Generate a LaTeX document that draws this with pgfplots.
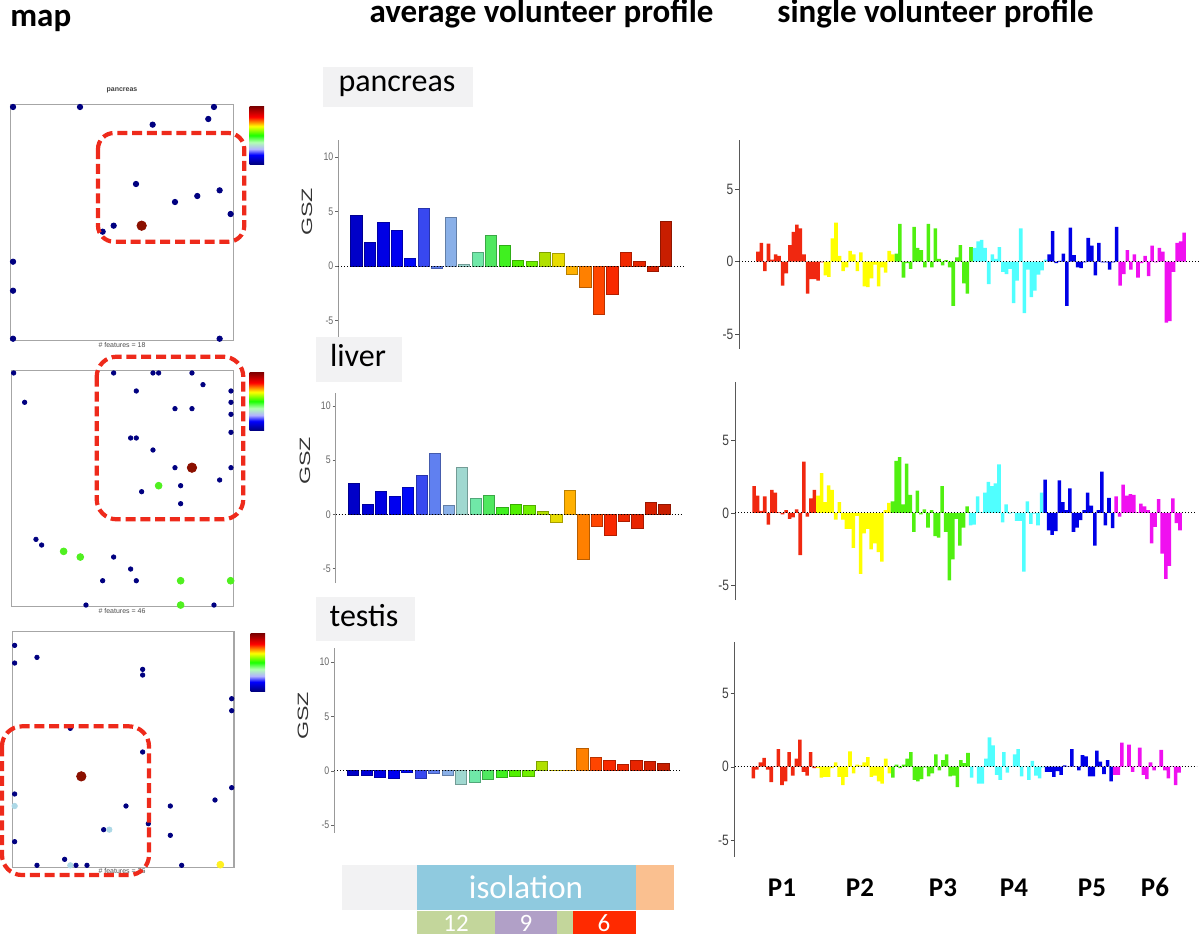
\documentclass[border=0pt]{standalone}
\usepackage{fontspec}
\setmainfont{Carlito}
\newfontfamily\ar{Liberation Sans}
\usepackage{pgfplots}
\pgfplotsset{compat=1.18}
% rainbow of the 24 average-profile bars
\definecolor{c0}{HTML}{0000C8}\definecolor{c1}{HTML}{0000D8}\definecolor{c2}{HTML}{0000E4}
\definecolor{c3}{HTML}{0000F0}\definecolor{c4}{HTML}{0008FA}\definecolor{c5}{HTML}{3848F0}
\definecolor{c6}{HTML}{6080F0}\definecolor{c7}{HTML}{8AB0E8}\definecolor{c8}{HTML}{A0D8D0}
\definecolor{c9}{HTML}{70E8A8}\definecolor{c10}{HTML}{50E860}\definecolor{c11}{HTML}{40F020}
\definecolor{c12}{HTML}{50F000}\definecolor{c13}{HTML}{70F000}\definecolor{c14}{HTML}{B0E000}
\definecolor{c15}{HTML}{E8DC00}\definecolor{c16}{HTML}{FFB000}\definecolor{c17}{HTML}{FF8000}
\definecolor{c18}{HTML}{FF4500}\definecolor{c19}{HTML}{F82800}\definecolor{c20}{HTML}{F02800}
\definecolor{c21}{HTML}{E82400}\definecolor{c22}{HTML}{D82000}\definecolor{c23}{HTML}{C81E00}
\definecolor{pr}{HTML}{F02810}\definecolor{py}{HTML}{FFFF00}\definecolor{pg}{HTML}{50F010}
\definecolor{pc}{HTML}{50FFFF}\definecolor{pb}{HTML}{0000E6}\definecolor{pm}{HTML}{F010F0}
\definecolor{navy}{HTML}{000080}\definecolor{dred}{HTML}{8B1000}\definecolor{regionred}{HTML}{EE2A1B}
\definecolor{lgrn}{HTML}{50F020}\definecolor{lblu}{HTML}{ADD8E6}\definecolor{lyel}{HTML}{FFF020}
\definecolor{boxg}{HTML}{F2F2F3}\definecolor{stripb}{HTML}{8FCADF}\definecolor{stripo}{HTML}{FAC090}
\definecolor{stripg}{HTML}{C3D69B}\definecolor{stripp}{HTML}{B1A0C7}\definecolor{stripr}{HTML}{FF2A00}
\pgfdeclareverticalshading{som}{100bp}{color(0bp)=(navy);color(25bp)=(navy);
  color(33bp)=(blue);color(38bp)=(white!70!blue);color(44bp)=(white!70!green);
  color(50bp)=(green!90!yellow);color(58bp)=(yellow);color(62bp)=(orange);
  color(66bp)=(red);color(75bp)=(red!50!black);color(100bp)=(red!50!black)}
\pgfplotsset{
  pxat/.style 2 args={at={({#1*.5pt},{-#2*.5pt})},anchor=north west},
  mapbox/.style={scale only axis,clip=false,xtick=\empty,ytick=\empty,
    axis line style={color=black!35,line width=.6pt}},
  mid/.style={scale only axis,axis x line=none,axis y line=left,axis line style={-,color=black!40,line width=.5pt},
    ytick={-5,0,5,10},tick align=outside,major tick length=1.5pt,
    tick style={color=black!60},
    yticklabel style={font=\ar\fontsize{5.5}{6}\selectfont,color=black!60,xscale=.8,inner sep=1pt},
    /pgf/number format/assume math mode=true},
  sgl/.style={scale only axis,axis x line=none,axis y line=left,axis line style={-,color=black!65,line width=.5pt},
    ytick={-5,0,5},tick align=outside,major tick length=2pt,
    tick style={color=black!70},
    yticklabel style={font=\ar\fontsize{7.5}{8}\selectfont,color=black!75,xscale=.8,inner sep=1pt},
    /pgf/number format/assume math mode=true},
}
\newcommand{\B}[2]{\addplot[ybar,bar shift=0pt,bar width=5.6pt,fill=c#1,draw=c#1!72!black,line width=.3pt] coordinates {(#1,#2)};}
\newcommand{\grp}[3]{\addplot[ybar,bar shift=0pt,bar width=1,fill=#1,draw=none] table[x expr=\coordindex+#2,y index=0,header=false,row sep=\\] {#3};}
\newcommand{\zero}[2]{\addplot[black,densely dotted,line width=.5pt] coordinates {(#1,0) (#2,0)};}
\newcommand{\pts}[3]{\addplot[only marks,mark=*,mark size=#2pt,color=#1,mark options={draw=none,fill=#1}] coordinates {#3};}
\begin{document}
\begin{tikzpicture}[x=.5pt,y=-.5pt]
\path[use as bounding box] (0,0) rectangle (1200,934);

% headers
\node[anchor=base west,inner sep=0] at (10,26) {\fontsize{16.5}{17}\selectfont\bfseries map};
\node[anchor=base,inner sep=0] at (541.5,22) {\fontsize{16.5}{17}\selectfont\bfseries average volunteer profile};
\node[anchor=base,inner sep=0] at (935.5,22) {\fontsize{16.5}{17}\selectfont\bfseries single volunteer profile};

% organ tags
\fill[boxg] (323,67) rectangle (473,107);
\node[anchor=base,inner sep=0] at (397,91) {\fontsize{16}{16}\selectfont pancreas};
\fill[boxg] (316,337) rectangle (402,382);
\node[anchor=base,inner sep=0] at (358,366) {\fontsize{16}{16}\selectfont liver};
\fill[boxg] (316,597) rectangle (415,641);
\node[anchor=base,inner sep=0] at (364,626) {\fontsize{16}{16}\selectfont testis};

% pancreas map
\begin{axis}[mapbox,pxat={10.7}{104.3},width=111.3pt,height=118.2pt,
  xmin=32,xmax=700,ymin=-782,ymax=-73]
\pts{navy}{1.35}{(39,-81)(240,-81)(642,-81)(625,-117)(458,-134)(408,-312)(525,-366)(592,-348)
  (659,-331)(692,-402)(341,-437)(308,-455)(39,-545)(39,-632)(39,-776)(659,-776)}
\pts{dred}{2.35}{(425,-437)}
\end{axis}
\node[inner sep=0,text=black!75] at (122,90) {\ar\bfseries\fontsize{3.5}{4}\selectfont pancreas};
\node[inner sep=0,text=black!70] at (122,344.7) {\ar\fontsize{3.5}{4}\selectfont\# features = 18};
\shade[shading=som] (249.7,106.7) rectangle (264,164);

% liver map
\begin{axis}[mapbox,pxat={11.3}{370.3},width=111pt,height=118.2pt,
  xmin=34,xmax=700,ymin=-770,ymax=-61]
\pts{navy}{1.1}{(41,-69)(341,-69)(459,-69)(476,-69)(576,-69)(609,-104)(409,-123)(693,-123)(74,-157)
  (693,-157)(525,-176)(576,-176)(693,-193)(693,-247)(392,-264)(409,-264)(459,-300)(525,-353)(693,-353)
  (659,-390)(542,-407)(425,-425)(542,-461)(108,-568)(125,-585)(341,-621)(392,-657)(308,-692)(409,-692)
  (258,-765)(642,-765)}
\pts{lgrn}{1.7}{(476,-407)(191,-604)(241,-621)(542,-692)(692,-692)(542,-765)}
\pts{dred}{2.35}{(576,-353)}
\end{axis}
\node[inner sep=0,text=black!70] at (122,610.7) {\ar\fontsize{3.5}{4}\selectfont\# features = 46};
\shade[shading=som] (249.7,372.3) rectangle (264,430.3);

% testis map
\begin{axis}[mapbox,pxat={12.3}{631.7},width=110.85pt,height=117.8pt,
  xmin=37,xmax=702,ymin=-742,ymax=-35]
\pts{navy}{1.1}{(44,-76)(111,-112)(44,-129)(428,-148)(428,-165)(695,-236)(695,-272)(211,-325)(428,-396)
  (44,-522)(378,-558)(511,-558)(645,-540)(695,-503)(445,-611)(311,-629)(511,-646)(44,-665)(194,-718)
  (111,-736)(228,-736)(261,-736)(545,-736)}
\pts{lblu}{1.35}{(44,-558)(328,-629)(211,-736)}
\pts{lyel}{1.7}{(661,-734)}
\pts{dred}{2.35}{(244,-469)}
\end{axis}
\node[inner sep=0,text=black!70] at (122,871) {\ar\fontsize{3.5}{4}\selectfont\# features = 36};
\shade[shading=som] (250.7,633.7) rectangle (265,691);

% regions on the maps
\draw[regionred,line width=2.1pt,rounded corners=8pt,dash pattern=on 5pt off 2.4pt] (98,133) rectangle (244.3,241.7);
\draw[regionred,line width=2.1pt,rounded corners=10pt,dash pattern=on 5pt off 2.4pt] (96.7,356.7) rectangle (243.3,519.3);
\draw[regionred,line width=2.1pt,rounded corners=10pt,dash pattern=on 5pt off 2.4pt] (2,726.3) rectangle (149,875);

% average profiles
\begin{axis}[mid,pxat={338.3}{140},width=173.35pt,height=98.35pt,
  xmin=-1.336,xmax=24.40,ymin=-6.47,ymax=11.53]
\B{0}{4.66}\B{1}{2.16}\B{2}{3.96}\B{3}{3.30}\B{4}{0.73}\B{5}{5.30}\B{6}{-0.20}\B{7}{4.42}
\B{8}{0.20}\B{9}{1.28}\B{10}{2.80}\B{11}{1.92}\B{12}{0.55}\B{13}{0.45}\B{14}{1.22}\B{15}{1.13}
\B{16}{-0.73}\B{17}{-1.95}\B{18}{-4.42}\B{19}{-2.60}\B{20}{1.22}\B{21}{0.40}\B{22}{-0.50}\B{23}{4.05}
\zero{-1.336}{24.40}
\end{axis}
\node[rotate=90,xscale=1.55,inner sep=0,text=black!80] at (307,212) {\ar\fontsize{7.5}{8}\selectfont GSZ};

\begin{axis}[mid,pxat={335.7}{393},width=173.65pt,height=95pt,
  xmin=-1.357,xmax=24.39,ymin=-6.34,ymax=11.2]
\B{0}{2.90}\B{1}{0.95}\B{2}{2.10}\B{3}{1.70}\B{4}{2.50}\B{5}{3.60}\B{6}{5.67}\B{7}{0.80}
\B{8}{4.30}\B{9}{1.45}\B{10}{1.78}\B{11}{0.64}\B{12}{0.89}\B{13}{0.83}\B{14}{0.25}\B{15}{-0.77}
\B{16}{2.18}\B{17}{-4.14}\B{18}{-1.10}\B{19}{-1.90}\B{20}{-0.60}\B{21}{-1.32}\B{22}{1.10}\B{23}{0.95}
\zero{-1.357}{24.39}
\end{axis}
\node[rotate=90,xscale=1.55,inner sep=0,text=black!80] at (305,461) {\ar\fontsize{7.5}{8}\selectfont GSZ};

\begin{axis}[mid,pxat={334.3}{648},width=173.2pt,height=92.35pt,
  xmin=-1.387,xmax=24.29,ymin=-5.70,ymax=11.29]
\B{0}{-0.40}\B{1}{-0.40}\B{2}{-0.58}\B{3}{-0.73}\B{4}{-0.10}\B{5}{-0.73}\B{6}{-0.27}\B{7}{-0.40}
\B{8}{-1.22}\B{9}{-1.07}\B{10}{-0.80}\B{11}{-0.58}\B{12}{-0.49}\B{13}{-0.49}\B{14}{0.83}\B{15}{0.03}
\B{16}{0.03}\B{17}{2.10}\B{18}{1.22}\B{19}{0.92}\B{20}{0.58}\B{21}{0.98}\B{22}{0.83}\B{23}{0.67}
\zero{-1.387}{24.29}
\end{axis}
\node[rotate=90,xscale=1.55,inner sep=0,text=black!80] at (303,716) {\ar\fontsize{7.5}{8}\selectfont GSZ};

% single volunteer profiles
\begin{axis}[sgl,pxat={739.3}{140},width=230.35pt,height=104.35pt,
  xmin=-5.21,xmax=124.46,ymin=-6,ymax=8.39]
\grp{pr}{0}{0.7\\1.3\\-0.65\\1.25\\0.15\\0.5\\0.4\\-1.65\\-0.8\\1.15\\2.05\\2.55\\2.3\\0.5\\-2.2\\-1.2\\-1.2\\-1.3\\-0.05\\}
\grp{py}{19}{-0.95\\-1.05\\1.6\\2.7\\0.4\\-0.65\\-0.4\\0.75\\0.5\\-0.65\\0.65\\-1.7\\-1.75\\-1.15\\-0.2\\-1.7\\-0.4\\-0.75\\0.75\\0.5\\}
\grp{pg}{39}{0.55\\2.6\\-1.1\\-0.1\\-0.5\\2.4\\0.95\\0.8\\-0.4\\2.6\\-0.4\\2.3\\0.2\\-0.25\\0.1\\-0.4\\-3.05\\0.3\\1.15\\-1.5\\-2.2\\1.0\\}
\grp{pc}{61}{0.95\\1.4\\1.5\\0.95\\-1.55\\0.5\\0.2\\1.0\\-0.7\\-0.85\\-0.5\\-2.85\\-1.3\\2.3\\-3.55\\-0.55\\-2.45\\-2.0\\-0.9\\-0.6\\0.15\\}
\grp{pb}{82}{0.5\\2.1\\-0.1\\0.05\\0.55\\-3.05\\2.35\\0.45\\-0.4\\-0.45\\-0.05\\1.65\\1.1\\-0.95\\1.3\\-0.05\\-0.05\\-0.55\\-0.05\\2.4\\}
\grp{pm}{102}{-1.65\\-0.85\\0.8\\-0.55\\0.5\\-1.1\\-0.1\\0.4\\-1.0\\1.1\\-0.05\\0.95\\0.7\\-4.2\\-4.1\\-0.7\\1.3\\1.4\\2.0\\}
\zero{-5.21}{124.46}
\end{axis}

\begin{axis}[sgl,pxat={735}{382},width=231pt,height=109pt,
  xmin=-5.38,xmax=124.8,ymin=-6,ymax=9.03]
\grp{pr}{0}{1.85\\1.2\\0.15\\1.15\\-0.8\\1.6\\1.4\\0.05\\-0.1\\0.2\\-0.4\\-0.3\\0.25\\-2.9\\3.55\\-0.25\\1.0\\1.6\\}
\grp{py}{18}{1.2\\2.75\\0.75\\1.9\\1.6\\-0.45\\0.75\\-0.45\\-1.1\\-1.1\\-2.4\\-0.2\\-4.2\\-1.4\\-1.1\\-2.5\\-2.1\\-2.7\\-3.35\\0.2\\0.7\\}
\grp{pg}{39}{0.8\\3.6\\3.85\\0.6\\3.4\\1.25\\-1.3\\1.55\\-0.1\\0.25\\-1.0\\0.2\\-1.6\\-1.7\\1.85\\-1.3\\-4.65\\-3.2\\-0.4\\-2.25\\-1.0\\0.45\\}
\grp{pc}{61}{-0.85\\-0.8\\1.15\\0.05\\1.4\\2.15\\1.85\\2.05\\3.35\\-0.65\\0.6\\-0.05\\0.05\\-0.55\\-0.55\\-4.05\\0.8\\-0.75\\-0.05\\-0.85\\1.4\\}
\grp{pb}{82}{2.3\\-1.2\\-1.5\\-1.25\\2.25\\0.75\\0.2\\1.7\\-1.3\\-1.0\\-0.5\\0.2\\1.4\\0.5\\-2.25\\0.2\\2.85\\-0.85\\1.05\\-1.05\\}
\grp{pm}{102}{1.15\\-0.25\\1.95\\1.2\\1.3\\1.25\\0.05\\0.65\\0.45\\0.2\\-2.1\\-0.95\\0.95\\-2.8\\-4.55\\-3.65\\1.0\\-0.7\\-1.2\\}
\zero{-5.38}{124.8}
\end{axis}

\begin{axis}[sgl,pxat={734.7}{642},width=231.15pt,height=107.35pt,
  xmin=-5.22,xmax=124,ymin=-6.14,ymax=8.51]
\grp{pr}{0}{-0.8\\-0.2\\0.3\\0.6\\-0.2\\-1.05\\0.02\\1.2\\-1.25\\-1.0\\1.0\\-0.6\\0.55\\1.85\\-0.35\\-0.6\\1.0\\-0.1\\}
\grp{py}{18}{-0.1\\-0.75\\-0.7\\-0.7\\-0.1\\0.3\\-0.7\\-1.25\\-0.7\\1.05\\-0.45\\0.15\\0.1\\0.3\\0.65\\-0.7\\-0.6\\-1.0\\-1.15\\0.55\\-0.45\\}
\grp{pg}{39}{-0.75\\0.15\\-0.1\\0.15\\0.55\\1.0\\-0.9\\-1.0\\-0.85\\-0.05\\-0.65\\-0.45\\0.85\\-0.25\\0.45\\0.85\\-0.65\\-0.6\\-1.4\\0.45\\0.25\\0.95\\}
\grp{pc}{61}{-0.75\\0.02\\-1.15\\-1.15\\0.55\\2.0\\1.45\\-0.55\\-0.9\\1.0\\-0.4\\0.02\\0.85\\1.2\\-0.65\\0.02\\-0.9\\0.4\\-0.6\\-0.8\\-0.05\\}
\grp{pb}{82}{-0.35\\-0.35\\-0.7\\-0.3\\-0.55\\0.1\\0.02\\1.2\\0.02\\-0.25\\0.8\\0.7\\-0.65\\-0.65\\1.1\\0.35\\-0.5\\0.45\\-1.0\\}
\grp{pm}{101}{-0.55\\-0.55\\1.65\\0.02\\1.5\\-0.35\\0.02\\1.3\\-0.55\\-0.85\\0.3\\-0.25\\0.02\\1.15\\-0.25\\-0.8\\0.02\\-1.25\\-0.4\\}
\zero{-5.22}{124}
\end{axis}

% volunteer labels
\foreach \x/\t in {782/P1,860/P2,943/P3,1014/P4,1092/P5,1155/P6}
  \node[anchor=base,inner sep=0] at (\x,896) {\fontsize{13.5}{14}\selectfont\bfseries\t};

% protocol strip
\fill[boxg] (342.3,865) rectangle (417.3,910.3);
\fill[stripb] (417.3,865) rectangle (635.7,910.3);
\fill[stripo] (635.7,865) rectangle (674,910.3);
\fill[stripg] (417.3,910.8) rectangle (494.7,934);
\fill[stripp] (494.7,910.8) rectangle (557,934);
\fill[stripg] (557,910.8) rectangle (573.3,934);
\fill[stripr] (573.3,910.8) rectangle (636,934);
\node[anchor=base,inner sep=0,text=white] at (526,898) {\fontsize{16.5}{17}\selectfont isolation};
\node[anchor=base,inner sep=0,text=white] at (456,931) {\fontsize{12.5}{13}\selectfont 12};
\node[anchor=base,inner sep=0,text=white] at (526,931) {\fontsize{12.5}{13}\selectfont 9};
\node[anchor=base,inner sep=0,text=white] at (604,931) {\fontsize{12.5}{13}\selectfont 6};
\end{tikzpicture}
\end{document}
